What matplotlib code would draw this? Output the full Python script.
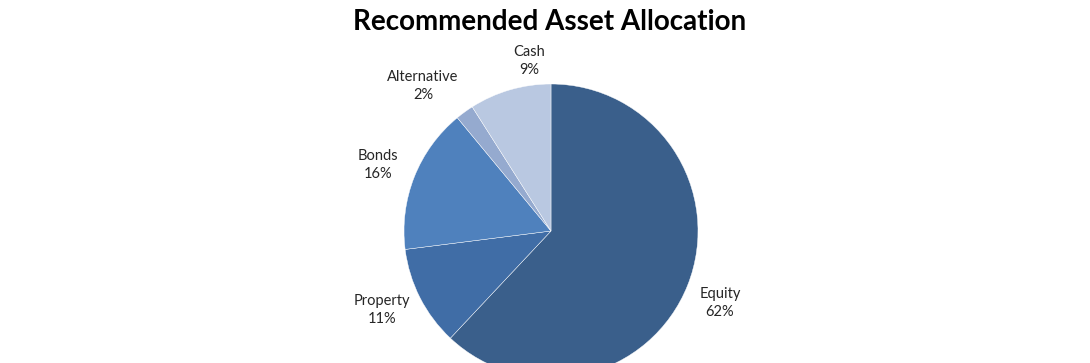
import matplotlib.pyplot as plt

# Data (clockwise from 12 o'clock)
categories = ['Equity', 'Property', 'Bonds', 'Alternative', 'Cash']
shares = [62, 11, 16, 2, 9]
colors = ['#3A5F8B', '#406DA6', '#4F81BD', '#95AACF', '#B9C8E1']

# label positions in pixel coords (x, y from top)
label_pos = {
    'Equity': (720, 303),
    'Property': (382, 310),
    'Bonds': (378, 165),
    'Alternative': (423, 86),
    'Cash': (529, 61),
}

plt.rcParams['font.family'] = ['Lato', 'DejaVu Sans']

W, H = 1090, 363
fig = plt.figure(figsize=(W / 100, H / 100), dpi=100)
ax = fig.add_axes([0, 0, 1, 1])

cx, cy, r = 551, H - 231, 147
ax.pie(shares, colors=colors, startangle=90, counterclock=False,
       center=(cx, cy), radius=r, frame=True,
       wedgeprops=dict(edgecolor='white', linewidth=0.3))
ax.set_xlim(0, W)
ax.set_ylim(0, H)
ax.set_aspect('equal')
ax.axis('off')

for name, val in zip(categories, shares):
    x, y = label_pos[name]
    ax.text(x, H - y, f'{name}\n{val}%', ha='center', va='center',
            fontsize=10.5, color='#262626', linespacing=1.35)

ax.text(550, H - 22, 'Recommended Asset Allocation', ha='center', va='center',
        fontsize=20, fontweight='bold', color='black')

fig.savefig('out.png', dpi=100)
